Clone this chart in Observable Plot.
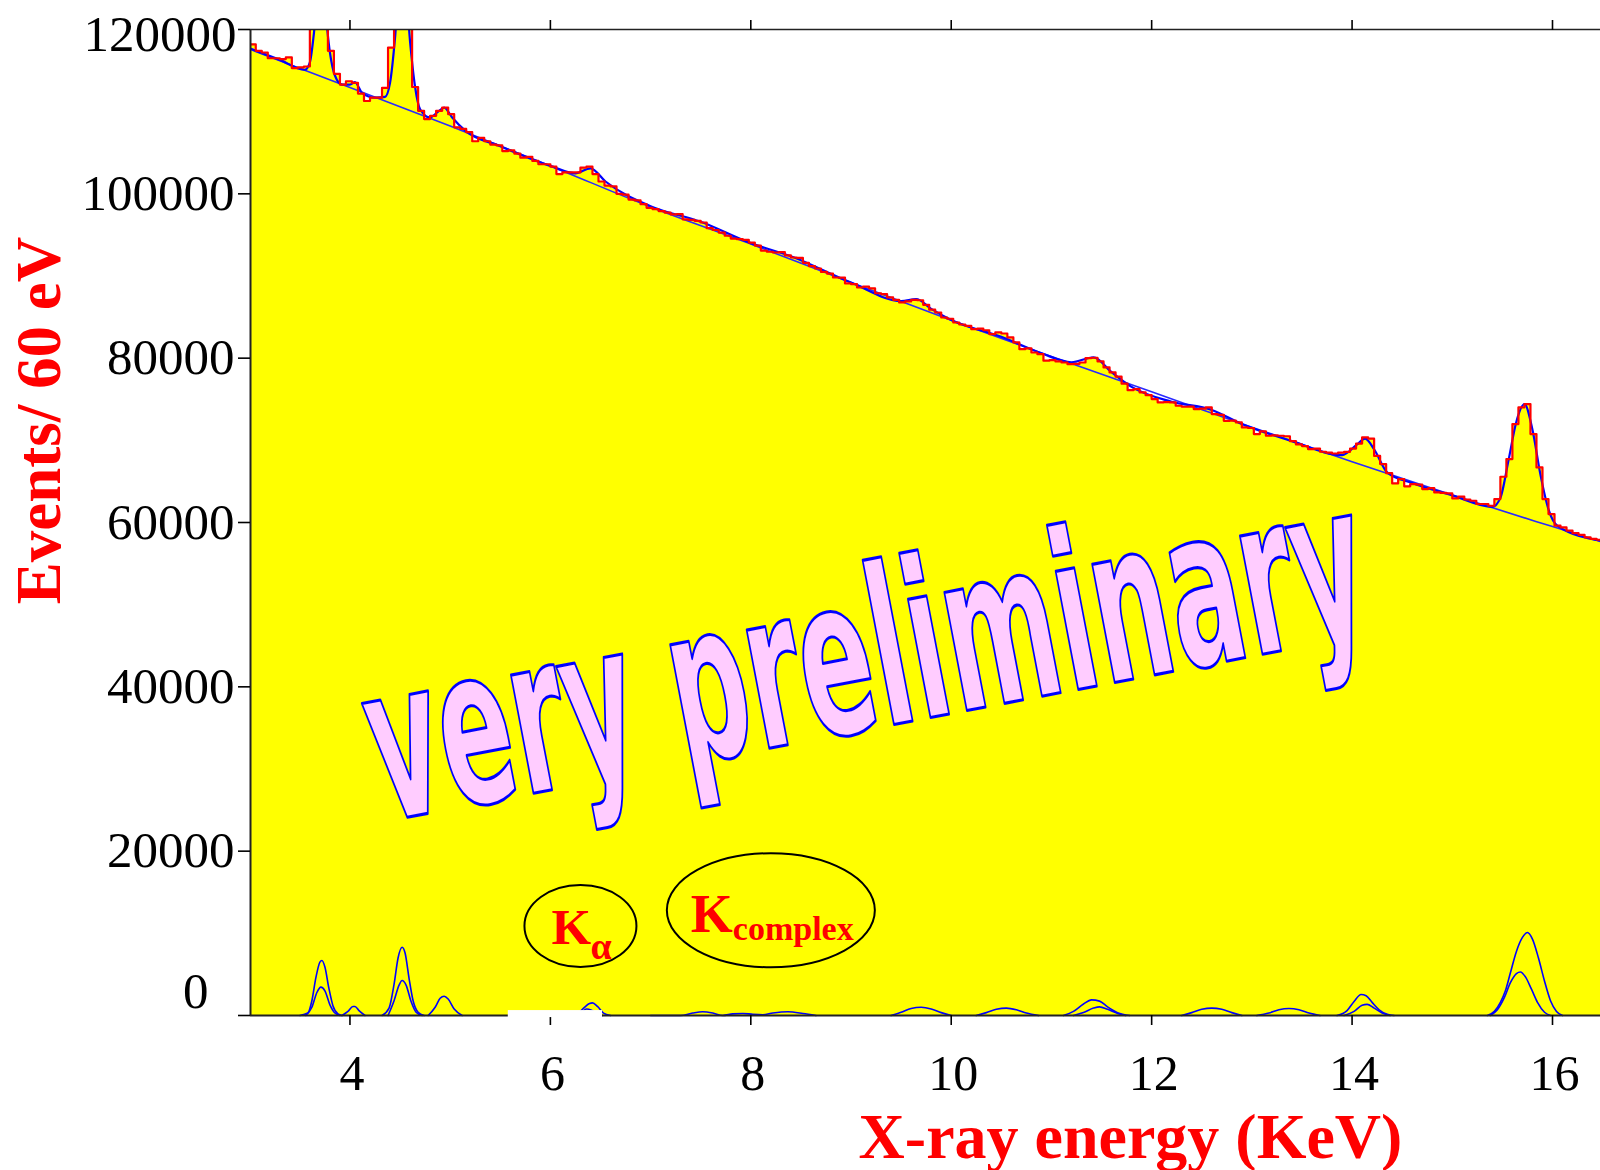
<!DOCTYPE html>
<html><head><meta charset="utf-8">
<script src="https://cdn.jsdelivr.net/npm/d3@7"></script>
<script src="https://cdn.jsdelivr.net/npm/@observablehq/plot@0.6"></script>
<style>body{margin:0;background:#fff;} #chart svg{display:block;}</style>
</head><body><div id="chart"></div>
<script>
// ---- data ----
const binStart = 3.00;   // keV, lower edge of first 60 eV bin
const binWidth = 0.06;   // keV
const counts = [
118200,117400,117200,116500,116500,116400,116600,115300,115400,115500,
121500,130000,126000,117400,114600,113300,113700,113500,112200,111300,
111700,111700,112900,117800,132000,134000,121000,113000,110100,109100,
109500,110100,110500,109700,108100,107900,107500,106400,106800,106400,
106000,105900,105200,105300,104900,104400,104500,104000,103600,103600,
103300,102400,102600,102600,102600,103200,103300,102400,101500,101000,
100900,100000,99900,99300,99200,98740,98300,98130,97900,97720,
97500,97520,96900,96830,96700,96510,95820,95600,95290,94900,
94560,94480,94400,94070,93700,93100,92950,92860,92900,92500,
92250,92200,91600,91200,90910,90500,90300,89820,89800,89100,
89000,88600,88700,88500,87900,87800,87390,87100,86780,86900,
87100,87050,86490,85900,85560,84950,84800,84340,84100,83940,
83530,83600,83400,82930,83130,83000,82520,81910,81100,81200,
80690,80490,79700,79760,79600,79470,79270,79300,79470,80010,
80050,79600,78870,78260,77750,76900,76100,76240,75830,75500,
75020,74610,74650,74610,74210,74090,74100,73800,73850,74000,
73200,73100,72380,72400,72180,71570,71500,70760,71100,70560,
70600,70560,70500,69900,69500,69300,68940,69000,68610,68500,
68400,68500,68600,69000,69600,70350,70200,68100,67110,66000,
64760,65290,64400,64680,64600,64070,64190,63660,63600,63540,
62930,63140,62800,62650,62250,62250,62040,62850,65570,67720,
71980,74000,74410,70760,66700,62850,61030,59610,59400,59000,
58700,58500,58200,58000,57900
];
const bgEnergy = [3.0, 4, 5, 6, 7, 8, 9, 10, 11, 12, 13, 14, 15, 16, 16.5];
const bgCounts = [117600, 112950, 108250, 103400, 98400, 93900, 89200, 84600, 80200, 75900, 71600, 67400, 63350, 59500, 57600];
const fitPoints = [
[3.00,117700],[3.30,116300],[3.55,115100],[3.60,116000],[3.64,119500],[3.68,124500],[3.72,125500],[3.76,121500],
[3.80,117200],[3.85,114400],[3.92,113300],[4.00,113300],[4.05,113600],[4.12,112300],[4.25,111700],[4.35,111800],
[4.40,113500],[4.45,119000],[4.50,127000],[4.55,126000],[4.60,118500],[4.65,113000],[4.70,110300],[4.80,109300],
[4.88,110000],[4.94,110500],[5.02,109300],[5.15,107700],[5.50,105800],[6.00,103400],[6.25,102500],[6.40,103100],
[6.55,101500],[7.00,98500],[7.50,96600],[8.00,94000],[8.40,92400],[9.00,89200],[9.50,86950],[9.65,87200],
[9.80,86000],[10.00,84650],[10.50,82600],[10.90,80600],[11.20,79500],[11.42,80100],[11.60,78300],[11.80,76500],
[12.20,74700],[12.60,73700],[12.90,72000],[13.40,69900],[13.90,68200],[14.05,69500],[14.13,70200],[14.22,68900],
[14.35,66100],[14.60,64800],[15.00,63300],[15.40,61900],[15.48,63000],[15.56,67500],[15.64,72300],[15.72,74400],
[15.80,71300],[15.88,65800],[15.96,61600],[16.05,59600],[16.48,57800]
];
const upperPeaks = [
 [[3.50,0],[3.58,300],[3.62,1800],[3.66,4600],[3.70,6500],[3.72,6700],[3.75,5900],[3.79,3300],[3.83,1200],[3.88,200],[3.92,0]],
 [[3.92,0],[3.98,500],[4.03,1100],[4.05,1100],[4.09,600],[4.15,0]],
 [[4.32,0],[4.39,900],[4.44,3800],[4.48,7000],[4.52,8300],[4.55,7600],[4.59,4500],[4.63,1800],[4.68,400],[4.74,0]],
 [[4.78,0],[4.85,1000],[4.90,2100],[4.94,2350],[4.98,2000],[5.04,800],[5.12,0]],
 [[6.20,0],[6.28,300],[6.34,1000],[6.39,1450],[6.42,1540],[6.47,1100],[6.53,300],[6.60,0]],
 [[7.00,0],[7.30,0],[7.42,300],[7.52,450],[7.62,300],[7.72,0],[7.82,200],[7.92,250],[8.02,150],[8.12,100],[8.22,300],[8.37,450],[8.52,250],[8.65,0]],
 [[9.40,0],[9.50,400],[9.60,850],[9.70,1000],[9.80,800],[9.90,350],[10.00,0]],
 [[10.25,0],[10.35,350],[10.45,750],[10.55,900],[10.65,700],[10.75,300],[10.87,0]],
 [[11.12,0],[11.22,500],[11.32,1400],[11.40,1900],[11.48,1750],[11.56,1050],[11.66,350],[11.78,0]],
 [[12.30,0],[12.40,350],[12.50,750],[12.60,900],[12.70,750],[12.80,350],[12.90,0]],
 [[13.05,0],[13.17,300],[13.27,700],[13.37,850],[13.47,700],[13.57,300],[13.68,0]],
 [[13.85,0],[13.95,600],[14.02,1700],[14.09,2550],[14.14,2400],[14.20,1600],[14.27,700],[14.35,150],[14.42,0]],
 [[15.35,0],[15.42,500],[15.48,1600],[15.53,3000],[15.58,5200],[15.64,7800],[15.70,9500],[15.75,10100],[15.80,9300],[15.86,7000],[15.92,4200],[15.98,1800],[16.04,500],[16.10,0]]
];
const lowerPeaks = [
 [[3.56,0],[3.62,1000],[3.67,2800],[3.71,3450],[3.75,3000],[3.80,1300],[3.85,300],[3.90,0]],
 [[4.38,0],[4.44,1800],[4.49,3700],[4.52,4260],[4.56,3700],[4.61,1700],[4.66,400],[4.72,0]],
 [[6.25,0],[6.31,350],[6.36,800],[6.41,650],[6.47,200],[6.52,0]],
 [[11.22,0],[11.32,350],[11.42,900],[11.48,1050],[11.56,750],[11.66,250],[11.74,0]],
 [[13.92,0],[14.02,500],[14.10,1250],[14.15,1350],[14.22,900],[14.30,300],[14.38,0]],
 [[15.38,0],[15.45,700],[15.52,2200],[15.58,4000],[15.64,5100],[15.68,5300],[15.73,4700],[15.79,3200],[15.85,1600],[15.92,400],[15.98,0]]
];
const xTicks = [4, 6, 8, 10, 12, 14, 16];
const yTicks = [0, 20000, 40000, 60000, 80000, 100000, 120000];
const xDomain = [3.0075, 16.479];
const yDomain = [0, 120000];
const maskBox = [{x1: 5.58, x2: 6.52, y1: -250, y2: 600}];
const kAlpha = [{E: 6.30, c: 10890}];
const kComplex = [{E: 8.20, c: 12810}];
const watermark = [{E: 9.15, c: 43480, text: "very preliminary"}];
const xTitle = "X-ray energy (KeV)";
const yTitle = "Events/ 60 eV";

// ---- build tables ----
const hist = counts.map((c, i) => ({E: binStart + i * binWidth, c}));
hist.push({E: binStart + counts.length * binWidth, c: counts[counts.length - 1]});
const bg = bgEnergy.map((E, i) => ({E, c: bgCounts[i]}));
const fit = fitPoints.map(([E, c]) => ({E, c}));
const upperRows = upperPeaks.flatMap((s, k) => s.map(([E, c]) => ({seg: k, E, c})));
const lowerRows = lowerPeaks.flatMap((s, k) => s.map(([E, c]) => ({seg: k, E, c})));

function ellipseSymbol(rx, ry) {
  const k = 0.5523;
  return {draw(ctx) {
    ctx.moveTo(rx, 0);
    ctx.bezierCurveTo(rx, ry * k, rx * k, ry, 0, ry);
    ctx.bezierCurveTo(-rx * k, ry, -rx, ry * k, -rx, 0);
    ctx.bezierCurveTo(-rx, -ry * k, -rx * k, -ry, 0, -ry);
    ctx.bezierCurveTo(rx * k, -ry, rx, -ry * k, rx, 0);
    ctx.closePath();
  }};
}

const serif = "'Liberation Serif','Times New Roman',Times,serif";
const narrow = "'Liberation Sans Narrow','Arial Narrow','DejaVu Sans Condensed','Liberation Sans',Arial,sans-serif";

const chart = Plot.plot({
  width: 1600, height: 1170,
  marginTop: 29, marginBottom: 155, marginLeft: 250, marginRight: 0,
  x: {domain: xDomain, label: null},
  y: {domain: yDomain, label: null},
  style: {fontFamily: serif, background: "white", overflow: "visible"},
  marks: [
    Plot.areaY(hist, {x: "E", y: "c", curve: "step-after", fill: "#ffff00", clip: true}),
    Plot.line(upperRows, {x: "E", y: "c", z: "seg", stroke: "#0000ff", strokeWidth: 1.6, curve: "monotone-x"}),
    Plot.line(lowerRows, {x: "E", y: "c", z: "seg", stroke: "#0000ff", strokeWidth: 1.6, curve: "monotone-x"}),
    Plot.line(bg, {x: "E", y: "c", stroke: "#2a2aff", strokeWidth: 1.6, curve: "monotone-x", clip: true}),
    Plot.line(fit, {x: "E", y: "c", stroke: "#0000ff", strokeWidth: 2.2, curve: "monotone-x", clip: true}),
    Plot.line(hist, {x: "E", y: "c", curve: "step-after", stroke: "#ff0000", strokeWidth: 2.2, clip: true}),
    Plot.text(watermark, {x: "E", y: "c", text: "text", rotate: -10.8, fontSize: 220, fontWeight: "bold",
      fontFamily: narrow, fill: "#ffccff", stroke: "#0000ff", strokeWidth: 2.5, paintOrder: "normal",
      textAnchor: "middle", lineAnchor: "middle"}),
    Plot.dot(kAlpha, {x: "E", y: "c", symbol: ellipseSymbol(56, 41), fill: "none", stroke: "black", strokeWidth: 2}),
    Plot.dot(kComplex, {x: "E", y: "c", symbol: ellipseSymbol(104, 57), fill: "none", stroke: "black", strokeWidth: 2}),
    Plot.text(kAlpha, {x: "E", y: "c", text: () => "K", fontSize: 51, fontWeight: "bold", fill: "#ff0000",
      textAnchor: "start", lineAnchor: "middle", dx: -29, dy: 2, fontFamily: serif}),
    Plot.text(kAlpha, {x: "E", y: "c", text: () => "α", fontSize: 38, fontWeight: "bold", fill: "#ff0000",
      textAnchor: "start", lineAnchor: "middle", dx: 10, dy: 21, fontFamily: serif}),
    Plot.text(kComplex, {x: "E", y: "c", text: () => "K", fontSize: 54, fontWeight: "bold", fill: "#ff0000",
      textAnchor: "start", lineAnchor: "middle", dx: -80, dy: 4, fontFamily: serif}),
    Plot.text(kComplex, {x: "E", y: "c", text: () => "complex", fontSize: 34, fontWeight: "bold", fill: "#ff0000",
      textAnchor: "start", lineAnchor: "middle", dx: -38, dy: 19, fontFamily: serif}),
    // axis lines
    Plot.ruleY([yDomain[0]], {stroke: "#222", strokeWidth: 2}),
    Plot.ruleY([yDomain[1]], {stroke: "#222", strokeWidth: 1.6}),
    Plot.ruleX([xDomain[0]], {stroke: "#222", strokeWidth: 2}),
    Plot.axisY(yTicks, {anchor: "left", tickSize: 12, tickFormat: () => "", strokeWidth: 1.6, label: null}),
    Plot.axisY(yTicks.slice(1, -1), {anchor: "left", tickSize: 0, tickPadding: 16, fontSize: 51,
      tickFormat: d => String(d), label: null, fill: "black"}),
    Plot.axisY(yTicks.slice(0, 1), {anchor: "left", tickSize: 0, tickPadding: 42, dy: -24, fontSize: 51,
      tickFormat: d => String(d), label: null, fill: "black"}),
    Plot.axisY(yTicks.slice(-1), {anchor: "left", tickSize: 0, tickPadding: 14, dy: 5, fontSize: 51,
      tickFormat: d => String(d), label: null, fill: "black"}),
    Plot.axisX(xTicks, {anchor: "bottom", tickSize: 10, tickFormat: () => "", strokeWidth: 1.6, label: null}),
    Plot.axisX(xTicks, {anchor: "bottom", tickSize: 0, tickPadding: 39, dx: 2, fontSize: 50, label: null, fill: "black"}),
    Plot.axisX(xTicks, {anchor: "top", tickSize: 10, tickFormat: () => "", strokeWidth: 1.6, label: null}),
    Plot.rect(maskBox, {x1: "x1", x2: "x2", y1: "y1", y2: "y2", fill: "white"}),
    // titles
    Plot.text([yTitle], {frameAnchor: "left", rotate: -90, dx: -211, dy: -102, fontSize: 63, fontWeight: "bold",
      fill: "#ff0000", textAnchor: "middle", lineAnchor: "middle", fontFamily: serif}),
    Plot.text([xTitle], {frameAnchor: "bottom", dx: 205, dy: 122, fontSize: 64, fontWeight: "bold",
      fill: "#ff0000", textAnchor: "middle", lineAnchor: "middle", fontFamily: serif})
  ]
});
document.getElementById("chart").append(chart);

// condense the watermark to its drawn width along the baseline
const wm = Array.from(chart.querySelectorAll("text")).find(t => t.textContent === watermark[0].text);
if (wm) {
  const L = wm.getComputedTextLength();
  const sx = 1011 / L;
  wm.setAttribute("transform", (wm.getAttribute("transform") || "") + ` scale(${sx},1)`);
  wm.setAttribute("vector-effect", "non-scaling-stroke");
}
</script>
</body></html>
